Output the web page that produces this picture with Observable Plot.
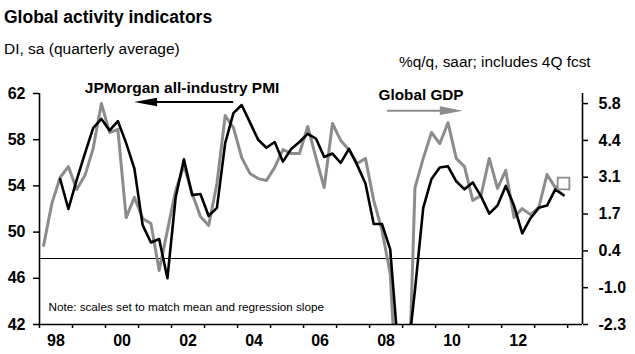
<!DOCTYPE html>
<html>
<head>
<meta charset="utf-8">
<script src="https://cdn.jsdelivr.net/npm/d3@7"></script>
<script src="https://cdn.jsdelivr.net/npm/@observablehq/plot@0.6"></script>
<style>
  body { margin: 0; background: #fff; font-family: "Liberation Sans", Arial, sans-serif; }
  #wrap { position: relative; width: 635px; height: 354px; overflow: hidden; }
  .t { position: absolute; white-space: nowrap; color: #000; line-height: 1; }
  #chart { position: absolute; left: 0; top: 0; }
</style>
</head>
<body>
<div id="wrap">
  <div id="chart"></div>
  <div class="t" style="left:4px;top:9px;font-size:17.5px;font-weight:bold;">Global activity indicators</div>
  <div class="t" style="left:4px;top:41px;font-size:15.5px;">DI, sa (quarterly average)</div>
  <div class="t" style="left:399px;top:54px;font-size:15.4px;">%q/q, saar; includes 4Q fcst</div>
</div>
<script>
// ---- data (quarterly, 1998Q1 .. 2013Q4) ----
const startYear = 1998;
const quarterCount = 64;

// JPMorgan all-industry PMI (DI, sa, quarterly average) - left axis
const pmi = [null, null, 54.6, 52.0, 54.5, 56.8, 59.0, 59.8, 58.8, 59.6, 57.7, 55.5,
  50.6, 49.1, 49.4, 46.0, 53.0, 56.3, 53.2, 53.3, 51.4, 52.1, 57.7, 60.3,
  61.0, 59.5, 58.0, 57.3, 57.8, 56.1, 57.2, 57.8, 58.5, 58.1, 56.5, 56.8,
  56.0, 57.2, 55.8, 54.2, 50.7, 50.7, 48.5, 39.5, 38.5, 45.0, 52.1, 54.6,
  55.6, 55.7, 54.4, 53.7, 54.3, 53.1, 51.6, 52.3, 54.0, 52.3, 49.9, 51.2,
  52.1, 52.3, 53.7, 53.2];

// Global GDP (%q/q, saar; includes 4Q forecast) - right axis
const gdp = [0.60, 2.14, 3.09, 3.49, 2.65, 3.16, 4.15, 5.80, 4.74, 4.85, 1.62, 2.36,
  1.59, 1.40, -0.32, 1.15, 2.61, 3.53, 2.50, 1.66, 1.33, 2.87, 5.36, 4.92,
  3.82, 3.24, 3.05, 2.98, 3.46, 4.11, 3.97, 3.97, 4.96, 3.82, 2.72, 5.07,
  4.45, 4.11, 3.60, 3.79, 2.25, 1.15, -0.43, -6.0, -7.0, 2.72, 3.79, 4.74,
  4.33, 5.10, 3.79, 3.49, 2.25, 2.43, 3.79, 2.69, 3.35, 1.62, 1.95, 1.73,
  1.99, 3.20, 2.72, 2.87];

// axes
const xDomain = [1998, 2014.45];
const leftDomain = [42, 62];
const leftTicks = [42, 46, 50, 54, 58, 62];
const rightDomain = [-2.3, 6.17];          // GDP values at the bottom / top of the frame
const rightTickValues = [-2.3, -0.95, 0.4, 1.75, 3.1, 4.45, 5.8];
const rightTickLabels = ["-2.3", "-1.0", "0.4", "1.7", "3.1", "4.4", "5.8"];
const yearTicks = d3.range(1998, 2015);
const labelYears = [1998, 2000, 2002, 2004, 2006, 2008, 2010, 2012];
const yearLabels = ["98", "00", "02", "04", "06", "08", "10", "12"];
const gdpRefLine = 0.12;

// annotations
const pmiLabel = {text: "JPMorgan all-industry PMI", x: 2002.32, y: 62.08};
const pmiArrow = {x1: 2003.88, x2: 2000.88, y: 61.22};
const gdpLabel = {text: "Global GDP", x: 2009.56, y: 61.48};
const gdpArrow = {x1: 2008.54, x2: 2010.84, y: 60.47};
const note = "Note: scales set to match mean and regression slope";

// ---- build ----
const GRAY = "#8c8c8c";
const toLeft = g => leftDomain[0] + (g - rightDomain[0]) / (rightDomain[1] - rightDomain[0]) * (leftDomain[1] - leftDomain[0]);
const quarters = d3.range(quarterCount).map(i => startYear + (i + 0.5) / 4);
const pmiData = quarters.map((t, i) => ({t, v: pmi[i]})).filter(d => d.v != null);
const gdpData = quarters.map((t, i) => ({t, v: gdp[i]}));
const rightPos = rightTickValues.map(toLeft);

function arrowMark(a, color) {
  return (index, scales) => {
    const x1 = scales.x(a.x1), x2 = scales.x(a.x2), y = scales.y(a.y);
    const dir = Math.sign(x2 - x1);
    const L = 23, h = 4.3;
    const g = d3.create("svg:g");
    g.append("line").attr("x1", x1).attr("x2", x2 - dir * L * 0.6).attr("y1", y).attr("y2", y)
      .attr("stroke", color).attr("stroke-width", 2);
    g.append("path").attr("d", `M${x2},${y}L${x2 - dir * L},${y - h}L${x2 - dir * L},${y + h}Z`)
      .attr("fill", color);
    return g.node();
  };
}

const chart = Plot.plot({
  width: 635,
  height: 354,
  marginLeft: 39,
  marginRight: 53,
  marginTop: 93,
  marginBottom: 30,
  x: {domain: xDomain},
  y: {domain: leftDomain},
  style: {fontFamily: "'Liberation Sans', Arial, sans-serif", fontSize: "16px", fontWeight: "bold", color: "#000", background: "transparent", overflow: "visible"},
  marks: [
    Plot.ruleY([toLeft(gdpRefLine)], {stroke: "#000", strokeWidth: 1}),
    Plot.line(gdpData, {x: "t", y: d => toLeft(d.v), stroke: GRAY, strokeWidth: 3, clip: true}),
    Plot.line(pmiData, {x: "t", y: "v", stroke: "#000", strokeWidth: 2.6, clip: true}),
    Plot.dot([gdpData[gdpData.length - 1]], {x: "t", y: d => toLeft(d.v), symbol: "square", r: 6.6, stroke: GRAY, strokeWidth: 1.8, fill: "white"}),
    Plot.ruleX(xDomain, {stroke: "#000", strokeWidth: 1.6}),
    Plot.ruleY([leftDomain[0]], {stroke: "#000", strokeWidth: 1.6}),
    Plot.axisY({anchor: "left", ticks: leftTicks, tickSize: 6, tickPadding: 8, tickFormat: d => String(d), label: null, strokeWidth: 1.5}),
    Plot.axisY({anchor: "right", ticks: rightPos, tickSize: 5, tickPadding: 11, label: null, strokeWidth: 1.5,
      tickFormat: d => rightTickLabels[rightPos.findIndex(p => Math.abs(p - d) < 1e-9)]}),
    Plot.axisX({ticks: yearTicks, tickSize: 4, tickFormat: () => "", label: null, strokeWidth: 1.5}),
    Plot.axisX({ticks: labelYears.map(y => y + 0.5), tickSize: 0, tickPadding: 10, label: null,
      tickFormat: d => yearLabels[labelYears.indexOf(Math.round(d - 0.5))]}),
    Plot.text([pmiLabel], {x: "x", y: "y", text: "text", textAnchor: "middle", lineAnchor: "bottom", fontSize: 15.5, fontWeight: "bold"}),
    Plot.text([gdpLabel], {x: "x", y: "y", text: "text", textAnchor: "middle", lineAnchor: "bottom", fontSize: 15.3, fontWeight: "bold"}),
    arrowMark(pmiArrow, "#000"),
    arrowMark(gdpArrow, GRAY),
    Plot.text([note], {frameAnchor: "bottom-left", dx: 9, dy: -13.3, textAnchor: "start", lineAnchor: "bottom", fontSize: 11.7, fontWeight: "normal"})
  ]
});
document.getElementById("chart").appendChild(chart);
</script>
</body>
</html>
